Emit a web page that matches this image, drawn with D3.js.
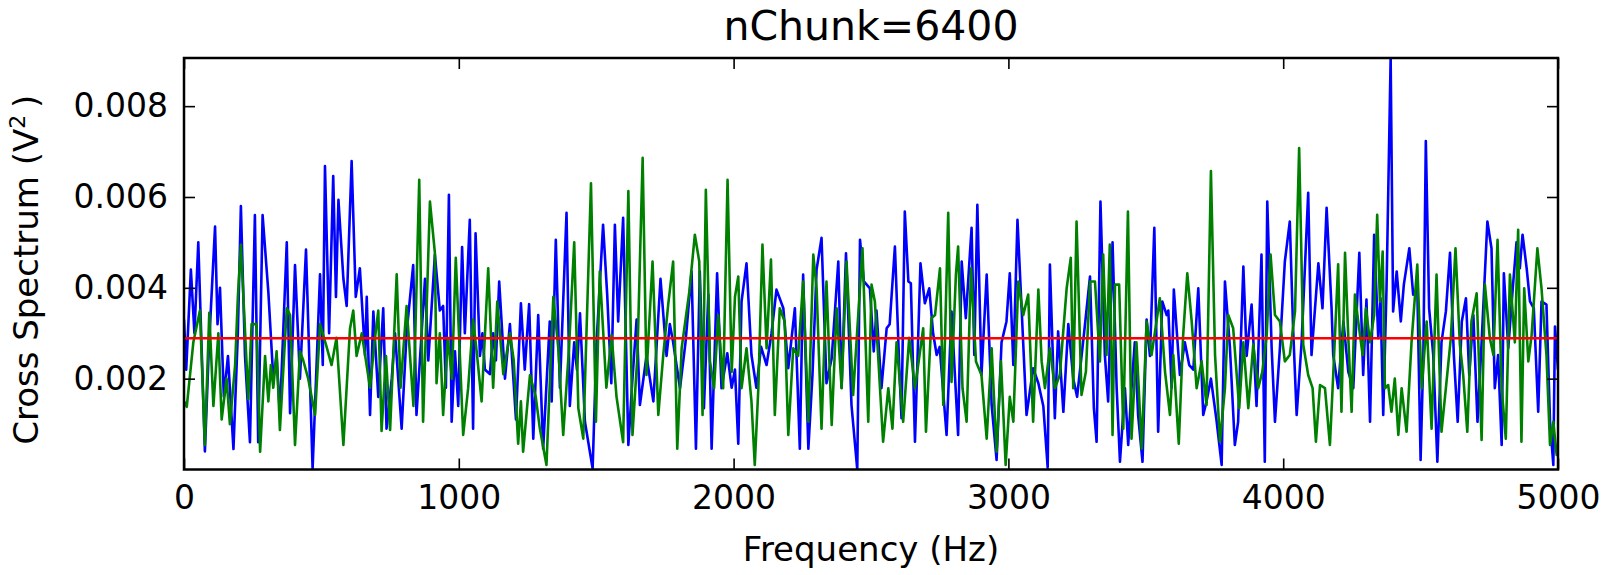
<!DOCTYPE html>
<html>
<head>
<meta charset="utf-8">
<script src="https://cdn.jsdelivr.net/npm/d3@7"></script>
<style>
  body { margin: 0; background: #fff; }
  text { font-family: "DejaVu Sans", sans-serif; fill: #000; }
</style>
</head>
<body>
<svg id="chart"></svg>
<script>
// values, in units of 1e-3 V^2, [frequency Hz, value]
var unit = 1e-3;

var blueSeries = [
  [0,3.3],[8,2.2],[25,4.4],[38,3.0],[52,5.0],[76,0.4],[90,2.6],[113,5.35],[122,3.2],[131,4.0],
  [145,1.6],[160,2.5],[180,0.45],[196,3.0],[207,5.8],[222,2.5],[240,0.6],[258,5.6],[270,0.6],[286,5.6],
  [307,3.9],[325,2.0],[337,2.5],[349,1.2],[374,5.0],[386,1.24],[404,4.5],[422,2.0],[444,4.84],[468,0.02],
  [495,4.3],[505,2.3],[513,6.68],[528,3.0],[543,6.46],[553,3.8],[562,5.94],[580,4.2],[592,3.6],[610,6.79],
  [625,3.8],[640,4.43],[659,2.5],[665,3.8],[677,1.2],[689,3.48],[707,1.6],[725,3.55],[737,0.9],[756,2.0],
  [768,3.0],[792,0.9],[810,3.0],[834,4.5],[846,1.2],[877,4.2],[889,2.4],[913,4.73],[931,3.5],[943,3.6],
  [953,1.8],[964,6.05],[974,1.05],[986,2.6],[998,1.4],[1012,4.9],[1022,3.0],[1040,5.5],[1052,0.9],[1061,5.2],
  [1077,2.5],[1086,3.0],[1095,2.2],[1113,2.1],[1125,3.0],[1135,2.4],[1147,4.14],[1168,2.0],[1186,3.2],[1208,1.1],
  [1226,3.66],[1240,2.2],[1256,3.64],[1271,0.68],[1289,3.4],[1307,0.46],[1331,3.26],[1338,1.5],[1353,5.06],[1368,1.8],
  [1392,5.65],[1404,1.4],[1420,2.8],[1430,2.2],[1441,3.44],[1459,1.05],[1487,0.02],[1501,2.75],[1525,5.39],[1540,3.85],
  [1555,1.9],[1568,5.39],[1580,3.26],[1598,5.54],[1617,0.54],[1632,2.0],[1647,3.3],[1659,1.42],[1683,2.5],[1708,1.5],
  [1734,4.2],[1756,2.5],[1768,3.2],[1780,2.8],[1805,1.79],[1825,2.8],[1847,4.36],[1863,0.46],[1877,4.36],[1892,1.35],
  [1908,3.85],[1920,0.46],[1940,4.32],[1956,1.79],[1977,2.56],[1993,1.8],[2005,2.2],[2017,0.57],[2029,3.7],[2047,4.54],
  [2065,2.52],[2083,1.8],[2100,2.7],[2120,2.3],[2138,3.0],[2156,3.96],[2181,3.55],[2199,2.23],[2223,3.55],[2241,0.46],
  [2253,4.29],[2272,0.46],[2287,2.08],[2302,4.4],[2320,5.1],[2338,1.9],[2357,2.45],[2381,4.58],[2393,1.8],[2409,4.76],
  [2429,1.42],[2450,0.0],[2460,5.06],[2474,4.14],[2496,3.99],[2510,2.6],[2520,3.5],[2538,1.79],[2557,3.11],[2568,3.2],
  [2587,4.91],[2603,2.23],[2611,1.13],[2623,5.68],[2636,4.14],[2645,4.1],[2660,0.61],[2680,4.54],[2696,3.66],[2712,3.99],
  [2726,3.0],[2739,2.52],[2750,2.7],[2775,0.76],[2793,3.48],[2817,0.76],[2830,4.58],[2845,3.33],[2866,5.32],[2876,2.52],
  [2887,5.83],[2902,2.08],[2921,4.29],[2939,1.42],[2957,0.21],[2975,2.8],[2993,3.26],[3005,4.32],[3018,2.3],[3033,5.5],
  [3048,3.55],[3066,1.2],[3090,2.23],[3109,1.9],[3127,1.4],[3143,0.04],[3151,4.51],[3169,1.13],[3181,3.04],[3200,1.27],
  [3218,3.2],[3236,2.0],[3250,1.6],[3278,3.15],[3297,4.25],[3311,1.35],[3321,0.61],[3335,5.9],[3351,2.52],[3363,1.5],
  [3379,5.0],[3394,1.79],[3406,0.17],[3424,1.79],[3436,0.54],[3448,1.79],[3460,2.8],[3472,1.2],[3488,0.17],[3503,3.3],
  [3515,2.5],[3531,5.32],[3545,0.83],[3560,3.7],[3576,3.4],[3582,3.5],[3594,1.8],[3602,3.96],[3624,2.08],[3642,2.8],
  [3658,2.3],[3673,2.2],[3691,3.99],[3709,1.2],[3721,1.5],[3737,2.0],[3757,1.1],[3776,0.1],[3788,4.14],[3806,2.7],
  [3824,0.54],[3836,1.05],[3855,4.47],[3867,2.5],[3885,3.63],[3903,1.4],[3921,4.73],[3933,0.17],[3942,5.9],[3958,2.67],
  [3970,1.05],[3988,2.67],[4006,4.58],[4024,5.46],[4036,3.11],[4049,1.2],[4067,2.8],[4091,6.09],[4103,2.52],[4128,4.54],
  [4143,3.55],[4158,5.76],[4176,3.55],[4182,2.52],[4200,1.79],[4219,3.26],[4237,2.15],[4255,1.79],[4277,4.77],[4291,2.08],
  [4303,3.74],[4316,1.05],[4331,5.17],[4346,2.89],[4354,3.77],[4364,1.2],[4376,3.99],[4391,9.06],[4400,3.48],[4413,4.36],
  [4428,3.26],[4439,4.07],[4459,4.87],[4473,3.85],[4488,3.99],[4500,0.21],[4510,2.52],[4519,7.23],[4531,3.55],[4546,2.52],
  [4561,0.17],[4576,2.8],[4592,3.48],[4607,4.77],[4621,2.52],[4635,1.05],[4650,3.26],[4665,3.77],[4677,2.08],[4692,3.4],
  [4707,1.05],[4722,2.8],[4743,5.46],[4758,4.87],[4770,1.79],[4782,2.52],[4795,0.54],[4803,4.32],[4819,2.67],[4835,3.96],
  [4849,5.0],[4861,4.43],[4871,5.17],[4886,4.43],[4898,3.7],[4912,3.55],[4928,1.27],[4940,3.7],[4958,3.63],[4971,1.05],
  [4983,0.1],[4989,3.15],[5000,2.2]
];

var greenSeries = [
  [0,1.5],[10,1.38],[34,2.8],[58,3.5],[76,0.54],[92,3.45],[107,1.4],[125,3.0],[137,1.1],[155,2.0],
  [167,1.0],[186,2.3],[196,3.8],[207,4.95],[234,1.55],[246,3.2],[264,3.2],[277,0.39],[295,2.5],[307,1.5],
  [316,2.3],[325,1.8],[337,2.6],[349,0.87],[374,3.55],[386,3.4],[404,0.54],[422,2.6],[434,2.4],[452,2.0],
  [477,1.2],[495,3.2],[519,2.7],[537,2.3],[555,2.9],[580,0.54],[604,3.1],[616,3.5],[628,2.5],[647,3.0],
  [677,1.8],[695,2.9],[707,3.5],[719,0.85],[735,2.5],[750,0.87],[774,4.3],[788,1.8],[810,3.6],[835,1.4],
  [856,6.38],[870,1.05],[895,5.9],[913,4.77],[919,1.9],[931,3.0],[943,1.2],[960,2.9],[975,2.0],[989,4.66],
  [1016,0.76],[1034,1.79],[1052,3.3],[1065,2.6],[1083,1.5],[1107,4.43],[1125,1.8],[1140,3.7],[1162,2.1],[1186,3.0],
  [1200,2.4],[1216,0.57],[1226,1.5],[1234,0.39],[1259,2.08],[1280,1.6],[1295,0.9],[1319,0.1],[1344,3.8],[1362,2.67],
  [1380,0.76],[1401,2.67],[1420,5.0],[1435,1.35],[1453,0.68],[1481,6.3],[1499,1.05],[1513,4.36],[1537,1.8],[1556,2.96],
  [1574,1.6],[1598,0.6],[1617,6.13],[1632,0.76],[1650,2.5],[1669,6.86],[1683,2.08],[1705,4.58],[1726,1.2],[1744,2.52],
  [1762,3.63],[1780,4.58],[1795,0.46],[1811,2.67],[1839,3.92],[1859,5.17],[1875,4.58],[1887,1.2],[1899,6.16],[1914,2.38],
  [1929,1.79],[1944,3.4],[1962,1.79],[1978,6.38],[1993,2.15],[2005,3.8],[2017,4.25],[2029,1.79],[2047,2.67],[2065,1.5],
  [2077,0.1],[2090,1.79],[2105,4.95],[2120,2.67],[2136,4.62],[2150,1.2],[2168,3.55],[2186,3.26],[2199,0.76],[2217,2.67],
  [2235,2.5],[2253,4.14],[2272,1.05],[2290,4.73],[2302,3.99],[2320,0.9],[2338,4.14],[2357,0.98],[2375,3.55],[2393,1.79],
  [2411,4.58],[2435,1.64],[2469,4.87],[2490,1.05],[2502,4.07],[2514,3.7],[2526,2.5],[2544,0.61],[2563,1.79],[2578,0.9],
  [2593,2.8],[2617,1.05],[2639,2.9],[2660,1.79],[2690,3.11],[2700,0.83],[2720,3.33],[2733,3.4],[2751,4.43],[2763,1.42],
  [2781,5.65],[2793,1.93],[2809,4.29],[2817,4.91],[2833,1.79],[2848,1.05],[2864,4.43],[2882,2.38],[2902,2.08],[2921,0.68],
  [2939,2.67],[2957,0.39],[2973,2.38],[2990,0.1],[3005,1.6],[3018,1.05],[3036,4.14],[3054,3.4],[3072,3.85],[3090,1.05],
  [3109,3.96],[3121,2.38],[3133,1.79],[3151,2.67],[3169,1.79],[3187,2.08],[3212,3.99],[3227,4.66],[3236,1.79],[3248,5.46],
  [3266,1.64],[3282,2.15],[3297,4.14],[3315,4.14],[3333,2.38],[3345,4.73],[3357,2.52],[3369,4.95],[3379,0.76],[3388,4.07],
  [3403,4.07],[3418,0.9],[3435,5.68],[3448,0.68],[3466,2.8],[3485,0.46],[3503,3.26],[3521,2.52],[3539,3.26],[3551,3.77],
  [3570,2.15],[3588,1.2],[3600,2.52],[3620,0.57],[3636,2.96],[3651,4.32],[3667,3.26],[3685,1.79],[3703,2.38],[3721,1.42],
  [3737,6.57],[3752,2.52],[3770,0.61],[3788,1.79],[3800,3.4],[3818,3.11],[3840,1.35],[3855,2.8],[3873,1.35],[3891,2.75],
  [3909,1.79],[3924,2.15],[3940,2.96],[3954,4.73],[3970,3.4],[3988,3.26],[4006,2.38],[4024,2.52],[4043,3.48],[4058,7.08],
  [4073,2.75],[4091,2.08],[4107,1.79],[4119,0.61],[4134,1.86],[4152,1.79],[4170,0.54],[4182,2.08],[4200,4.52],[4212,1.27],
  [4225,4.77],[4237,2.89],[4249,1.27],[4261,3.85],[4273,3.26],[4289,2.52],[4301,3.55],[4316,2.8],[4331,3.4],[4342,5.61],
  [4352,3.7],[4362,4.8],[4370,1.79],[4382,1.86],[4394,1.27],[4406,2.0],[4419,0.76],[4431,1.79],[4449,0.83],[4467,2.8],
  [4488,4.51],[4504,1.79],[4522,3.26],[4540,0.9],[4558,4.29],[4576,0.83],[4592,1.79],[4610,2.89],[4627,4.87],[4643,2.75],
  [4655,2.08],[4670,0.83],[4685,3.26],[4704,3.88],[4722,0.65],[4734,4.07],[4752,2.89],[4765,2.52],[4780,5.06],[4795,1.79],
  [4810,0.68],[4825,4.29],[4843,2.8],[4855,5.28],[4867,0.61],[4877,3.99],[4892,2.38],[4904,2.96],[4925,4.87],[4940,3.99],
  [4958,2.52],[4971,0.54],[4983,1.05],[4995,0.32],[5000,0.4]
];

// horizontal red reference level
var redLevel = 2.89;

var xTicks = [0, 1000, 2000, 3000, 4000, 5000];
var yTicks = [0.002, 0.004, 0.006, 0.008];

var titleText = "nChunk=6400";
var xLabel = "Frequency (Hz)";

// SVG
var width = 1617;
var height = 575;
var plotLeft = 184, plotRight = 1558, plotTop = 58, plotBottom = 469.5;
var tickLen = 11;

var svg = d3.select("#chart")
    .attr("width", width)
    .attr("height", height);

var allVals = blueSeries.concat(greenSeries).map(d => d[1] * unit);

var xScale = d3.scaleLinear()
    .domain([0, 5000])
    .range([plotLeft, plotRight]);

var yScale = d3.scaleLinear()
    .domain(d3.extent(allVals))
    .range([plotBottom, plotTop]);

svg.append("clipPath")
    .attr("id", "plotclip")
  .append("rect")
    .attr("x", plotLeft)
    .attr("y", plotTop)
    .attr("width", plotRight - plotLeft)
    .attr("height", plotBottom - plotTop);

var line = d3.line()
    .x(d => xScale(d[0]))
    .y(d => yScale(d[1] * unit));

var g = svg.append("g").attr("clip-path", "url(#plotclip)");

g.append("path")
    .attr("fill", "none")
    .attr("stroke", "#0000ff")
    .attr("stroke-width", 2.6)
    .attr("stroke-linejoin", "round")
    .attr("d", line(blueSeries));

g.append("path")
    .attr("fill", "none")
    .attr("stroke", "#008000")
    .attr("stroke-width", 2.6)
    .attr("stroke-linejoin", "round")
    .attr("d", line(greenSeries));

g.append("path")
    .attr("fill", "none")
    .attr("stroke", "#ff0000")
    .attr("stroke-width", 2.6)
    .attr("d", line([[0, redLevel], [5000, redLevel]]));

// axes, ticks pointing inwards on all four sides
var fmt = d3.format(".3f");

var xAxis = d3.axisBottom(xScale)
    .tickValues(xTicks)
    .tickSizeInner(-tickLen)
    .tickSizeOuter(0)
    .tickPadding(16)
    .tickFormat(d3.format("d"));

var yAxis = d3.axisLeft(yScale)
    .tickValues(yTicks)
    .tickSizeInner(-tickLen)
    .tickSizeOuter(0)
    .tickPadding(16)
    .tickFormat(fmt);

var gx = svg.append("g")
    .attr("transform", "translate(0," + plotBottom + ")")
    .call(xAxis);

var gy = svg.append("g")
    .attr("transform", "translate(" + plotLeft + ",0)")
    .call(yAxis);

var gxt = svg.append("g")
    .attr("transform", "translate(0," + plotTop + ")")
    .call(d3.axisTop(xScale).tickValues(xTicks).tickSizeInner(-tickLen).tickSizeOuter(0).tickFormat(""));

var gyr = svg.append("g")
    .attr("transform", "translate(" + plotRight + ",0)")
    .call(d3.axisRight(yScale).tickValues(yTicks).tickSizeInner(-tickLen).tickSizeOuter(0).tickFormat(""));

[gx, gy, gxt, gyr].forEach(function(a) {
    a.select(".domain").remove();
    a.selectAll(".tick line").attr("stroke", "#000").attr("stroke-width", 1.6);
    a.selectAll("text")
        .attr("font-family", "DejaVu Sans")
        .attr("font-size", 33)
        .attr("fill", "#000");
});

// frame
svg.append("rect")
    .attr("x", plotLeft)
    .attr("y", plotTop)
    .attr("width", plotRight - plotLeft)
    .attr("height", plotBottom - plotTop)
    .attr("fill", "none")
    .attr("stroke", "#000")
    .attr("stroke-width", 2.5);

// title and labels
svg.append("text")
    .attr("x", (plotLeft + plotRight) / 2)
    .attr("y", 40)
    .attr("text-anchor", "middle")
    .attr("font-size", 41)
    .text(titleText);

svg.append("text")
    .attr("x", (plotLeft + plotRight) / 2)
    .attr("y", 561)
    .attr("text-anchor", "middle")
    .attr("font-size", 34)
    .text(xLabel);

var yl = svg.append("text")
    .attr("transform", "translate(38," + ((plotTop + plotBottom) / 2 + 6) + ") rotate(-90)")
    .attr("text-anchor", "middle")
    .attr("font-size", 34);
yl.append("tspan").text("Cross Spectrum (V");
yl.append("tspan").attr("font-size", 22).attr("dy", -13).text("2");
yl.append("tspan").attr("dy", 13).text("\u2009)");
</script>
</body>
</html>
